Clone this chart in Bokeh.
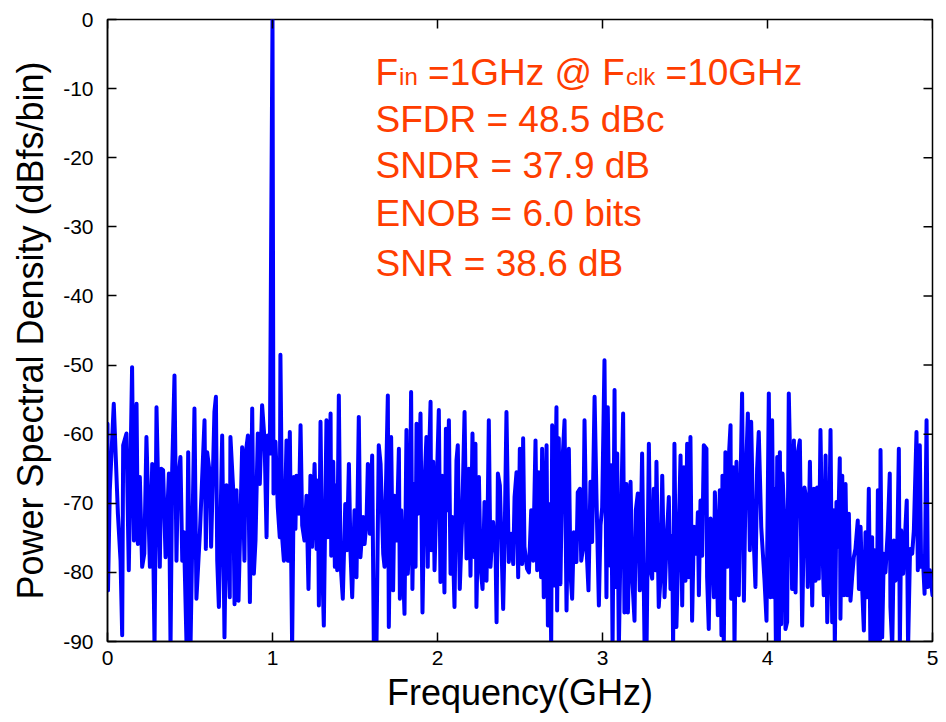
from bokeh.plotting import figure
from bokeh.models import Label, FixedTicker, Range1d
from bokeh.embed import file_html
from bokeh.resources import INLINE

# ---- data: (frequency GHz, PSD dBfs/bin) ----
seg_a = [(0.000, -58.5), (0.003, -82.6), (0.014, -68.1), (0.038, -55.6), (0.063, -71.5), (0.079, -78.3),
         (0.089, -89.1), (0.095, -61.6), (0.115, -59.9), (0.129, -79.7), (0.149, -50.3), (0.160, -75.4),
         (0.176, -55.6), (0.184, -75.9), (0.196, -66.2), (0.210, -79.2), (0.223, -77.3), (0.236, -60.4),
         (0.257, -79.2), (0.271, -64.3), (0.285, -91.0), (0.297, -56.1), (0.317, -79.2), (0.325, -65.0),
         (0.337, -65.2), (0.352, -77.8), (0.372, -65.7), (0.382, -91.0), (0.392, -65.2), (0.406, -51.5),
         (0.418, -78.3), (0.426, -67.2), (0.442, -63.3), (0.453, -78.3), (0.463, -74.2), (0.479, -90.5),
         (0.489, -62.6), (0.503, -91.0), (0.527, -56.3), (0.539, -83.8), (0.560, -74.2), (0.588, -58.0),
         (0.596, -76.6), (0.604, -62.6), (0.620, -65.7), (0.628, -76.3), (0.648, -56.8), (0.657, -54.6),
         (0.665, -78.3), (0.675, -85.0), (0.695, -60.2), (0.709, -89.4), (0.721, -67.4), (0.741, -83.6),
         (0.745, -60.4), (0.762, -68.1), (0.770, -84.6), (0.782, -68.1), (0.794, -84.1), (0.816, -61.9),
         (0.830, -78.3)]
seg_b = [(0.836, -63.1), (0.851, -60.2), (0.863, -84.3), (0.877, -56.3), (0.887, -80.2), (0.897, -75.4),
         (0.911, -59.9), (0.923, -67.2), (0.937, -55.8), (0.952, -60.9), (0.964, -74.9), (0.972, -60.2),
         (0.984, -62.8), (1.000, 0.0), (1.006, -68.6), (1.018, -61.1), (1.032, -70.6), (1.044, -74.9),
         (1.048, -48.5), (1.059, -75.1), (1.069, -78.3), (1.085, -60.9), (1.093, -78.3), (1.105, -59.7),
         (1.119, -91.0), (1.129, -66.2), (1.139, -73.7), (1.145, -66.0), (1.160, -71.5), (1.170, -58.7),
         (1.180, -73.2), (1.194, -75.4), (1.206, -68.9), (1.218, -82.4), (1.230, -66.0), (1.240, -76.3),
         (1.255, -64.3), (1.267, -76.6), (1.275, -66.7), (1.281, -84.8), (1.291, -58.2), (1.301, -78.3),
         (1.311, -87.7), (1.327, -58.0), (1.335, -74.9), (1.352, -57.0), (1.356, -77.6), (1.368, -64.0),
         (1.378, -79.2), (1.388, -67.4), (1.392, -79.7), (1.402, -54.4), (1.412, -78.5), (1.426, -83.8),
         (1.441, -70.1), (1.451, -76.8), (1.463, -64.3), (1.473, -77.3), (1.483, -83.6), (1.497, -71.0),
         (1.509, -80.7), (1.523, -57.5), (1.533, -77.8), (1.549, -72.0), (1.558, -75.9), (1.570, -72.5),
         (1.578, -64.3), (1.590, -74.4), (1.604, -63.1), (1.614, -90.5), (1.630, -91.0), (1.644, -61.6),
         (1.655, -64.3), (1.671, -77.3), (1.679, -79.2)]
seg_c = [(1.685, -70.6), (1.699, -54.4), (1.705, -87.9), (1.719, -60.4), (1.731, -82.6), (1.739, -68.9),
         (1.752, -75.4), (1.766, -62.1), (1.772, -83.8), (1.780, -71.0), (1.800, -86.0), (1.812, -59.4),
         (1.820, -80.2), (1.832, -74.4), (1.840, -53.9), (1.848, -82.4), (1.857, -67.2), (1.867, -79.2),
         (1.873, -58.5), (1.881, -71.5), (1.897, -57.0), (1.909, -85.8), (1.921, -67.4), (1.933, -60.4),
         (1.941, -79.2), (1.947, -65.2), (1.958, -55.3), (1.962, -76.8), (1.974, -64.0), (1.982, -79.7),
         (1.994, -68.6), (2.008, -56.5), (2.018, -81.4), (2.028, -66.0), (2.042, -82.9), (2.051, -59.2),
         (2.059, -71.0), (2.069, -58.0), (2.079, -80.2), (2.089, -72.0), (2.103, -85.0), (2.115, -63.8),
         (2.123, -61.6), (2.135, -82.4), (2.149, -72.5), (2.164, -56.8), (2.176, -78.0), (2.190, -65.0),
         (2.200, -80.5), (2.212, -59.9), (2.224, -77.8), (2.230, -61.4), (2.236, -85.0), (2.251, -66.2),
         (2.261, -79.2), (2.273, -82.4), (2.285, -69.8), (2.297, -81.2), (2.305, -69.8), (2.311, -58.0),
         (2.321, -79.2), (2.337, -72.7), (2.352, -77.3), (2.358, -87.2), (2.366, -65.7), (2.378, -67.4),
         (2.386, -74.4), (2.398, -85.3), (2.408, -73.4), (2.418, -56.8), (2.432, -78.5), (2.446, -74.4),
         (2.459, -78.8), (2.467, -69.1), (2.479, -65.5), (2.489, -80.7), (2.499, -62.1), (2.513, -78.8),
         (2.519, -60.6), (2.527, -76.3)]
seg_d = [(2.543, -79.5), (2.554, -80.0), (2.568, -71.0), (2.580, -78.3), (2.594, -60.9), (2.604, -79.7),
         (2.614, -65.5), (2.628, -80.7), (2.634, -62.1), (2.644, -83.6), (2.661, -61.6), (2.669, -87.7),
         (2.681, -70.1), (2.689, -91.0), (2.695, -58.7), (2.705, -81.9), (2.721, -56.1), (2.725, -85.5),
         (2.735, -60.6), (2.745, -81.7), (2.756, -64.5), (2.770, -58.0), (2.782, -85.5), (2.796, -62.1),
         (2.806, -80.2), (2.816, -83.8), (2.826, -74.2), (2.842, -78.5), (2.850, -68.4), (2.863, -67.9),
         (2.871, -78.3), (2.883, -76.3), (2.891, -58.0), (2.903, -76.3), (2.915, -82.6), (2.927, -66.9),
         (2.937, -75.6), (2.952, -54.6), (2.964, -69.6), (2.978, -84.8), (2.988, -73.2), (2.998, -70.6),
         (3.012, -49.3), (3.024, -83.6), (3.032, -56.1), (3.044, -79.0), (3.053, -64.5), (3.061, -91.0),
         (3.073, -53.6), (3.079, -82.1), (3.089, -62.8), (3.099, -91.0), (3.109, -76.3), (3.125, -57.0),
         (3.133, -85.8), (3.145, -67.2), (3.154, -85.8), (3.170, -66.9), (3.180, -80.7), (3.194, -87.0),
         (3.202, -71.0), (3.214, -68.6), (3.226, -82.6), (3.240, -62.8), (3.255, -91.0), (3.267, -91.0),
         (3.281, -61.4), (3.291, -79.5), (3.301, -80.9), (3.311, -67.9), (3.321, -79.7), (3.327, -64.0),
         (3.341, -85.0), (3.352, -80.7), (3.362, -66.0), (3.376, -83.6)]
seg_e = [(3.388, -75.9), (3.402, -69.1), (3.412, -82.4), (3.422, -74.7), (3.428, -91.0), (3.436, -61.4),
         (3.448, -87.9), (3.457, -79.2), (3.473, -63.1), (3.483, -84.8), (3.493, -64.8), (3.503, -81.2),
         (3.513, -61.4), (3.523, -80.7), (3.533, -60.4), (3.543, -87.0), (3.554, -73.4), (3.570, -77.3),
         (3.578, -71.3), (3.584, -83.3), (3.594, -69.6), (3.604, -77.6), (3.614, -61.6), (3.630, -62.1),
         (3.634, -80.7), (3.644, -88.2), (3.655, -72.2), (3.665, -75.4), (3.675, -83.6), (3.681, -68.4),
         (3.691, -75.4), (3.699, -86.2), (3.711, -68.1), (3.721, -89.1), (3.727, -66.0), (3.735, -91.0),
         (3.745, -62.6), (3.756, -79.2), (3.768, -62.3), (3.776, -58.7), (3.780, -83.8), (3.792, -64.8),
         (3.800, -91.0), (3.812, -64.0), (3.826, -83.3), (3.832, -73.4), (3.846, -54.1), (3.857, -84.1),
         (3.867, -67.7), (3.881, -57.0), (3.893, -76.8), (3.901, -58.2), (3.913, -73.0), (3.927, -82.1),
         (3.937, -65.0), (3.947, -59.7), (3.962, -73.4), (3.982, -81.2), (3.994, -87.0), (4.008, -54.1),
         (4.018, -83.6), (4.028, -58.0), (4.038, -83.6), (4.042, -67.9), (4.051, -91.0), (4.059, -63.3),
         (4.069, -91.0), (4.075, -62.6), (4.083, -87.5), (4.091, -65.7), (4.103, -73.0), (4.109, -88.2),
         (4.119, -87.2), (4.129, -54.1), (4.139, -65.7), (4.149, -82.4), (4.160, -60.9), (4.170, -82.9),
         (4.184, -62.6), (4.196, -60.9), (4.210, -87.7), (4.224, -67.7)]
seg_f = [(4.236, -69.6), (4.244, -82.1), (4.257, -64.0), (4.265, -75.9), (4.271, -84.8), (4.281, -67.9),
         (4.291, -81.2), (4.301, -67.7), (4.311, -80.9), (4.321, -59.4), (4.331, -74.4), (4.341, -83.3),
         (4.352, -63.1), (4.362, -87.2), (4.372, -77.3), (4.382, -59.4), (4.392, -87.2), (4.402, -71.0),
         (4.408, -91.0), (4.418, -69.8), (4.426, -76.3), (4.438, -63.5), (4.442, -86.7), (4.453, -66.0),
         (4.463, -83.3), (4.473, -67.2), (4.483, -83.3), (4.493, -71.5), (4.503, -84.1), (4.513, -80.7),
         (4.523, -77.8), (4.533, -76.6), (4.547, -72.5), (4.554, -82.4), (4.564, -73.4), (4.574, -82.4),
         (4.584, -88.4), (4.594, -74.2), (4.604, -83.6), (4.614, -67.9), (4.624, -91.0), (4.634, -74.9),
         (4.640, -91.0), (4.648, -76.8), (4.661, -91.0), (4.669, -68.1), (4.681, -91.0), (4.685, -62.3),
         (4.695, -89.4), (4.705, -77.3), (4.715, -80.0), (4.729, -73.9), (4.741, -65.7), (4.745, -85.0),
         (4.756, -91.0), (4.766, -75.4), (4.776, -81.2), (4.786, -77.3), (4.796, -62.1), (4.802, -91.0),
         (4.810, -73.9), (4.822, -80.2), (4.832, -75.4), (4.844, -69.6), (4.852, -91.0), (4.864, -76.6),
         (4.877, -77.3), (4.887, -73.9), (4.903, -59.7), (4.911, -79.7), (4.923, -61.6), (4.931, -79.2),
         (4.943, -78.5), (4.952, -83.1), (4.964, -58.0), (4.972, -82.1), (4.984, -79.7), (5.000, -83.3)]

x_ticks = [0, 1, 2, 3, 4, 5]
x_tick_labels = ["0", "1", "2", "3", "4", "5"]
y_ticks = [0, -10, -20, -30, -40, -50, -60, -70, -80, -90]
y_tick_labels = ["0", "-10", "-20", "-30", "-40", "-50", "-60", "-70", "-80", "-90"]

f_in_ghz = 1
f_clk_ghz = 10
sfdr_dbc = 48.5
sndr_db = 37.9
enob_bits = 6.0
snr_db = 38.6

# ---- build series ----
pairs = seg_a + seg_b + seg_c + seg_d + seg_e + seg_f
freq = [fq for fq, _ in pairs]
psd = [v for _, v in pairs]

FONT = "Liberation Sans"
RED = "#ff3d00"

X0, X1 = 0, 5
Y0, Y1 = -90, 0
ML, MR, MT, MB = 107, 14, 19, 81
W, H = 946, 722

p = figure(width=W, height=H, output_backend="svg", toolbar_location=None,
           x_range=Range1d(X0, X1), y_range=Range1d(Y0, Y1),
           min_border_left=ML, min_border_right=MR, min_border_top=MT, min_border_bottom=MB)
p.background_fill_color = "white"
p.border_fill_color = "white"
p.xgrid.visible = False
p.ygrid.visible = False
p.outline_line_color = "black"
p.outline_line_width = 1.5

p.line(freq, psd, line_color="#0000ff", line_width=4, line_join="round", line_cap="round")

def style_axis(ax):
    ax.major_tick_in = 9
    ax.major_tick_out = 0
    ax.minor_tick_in = 0
    ax.minor_tick_out = 0
    ax.axis_line_color = "black"
    ax.axis_line_width = 1.5
    ax.major_tick_line_color = "black"
    ax.major_tick_line_width = 1.5
    ax.major_label_text_font = FONT
    ax.major_label_text_color = "black"
    ax.major_label_text_font_size = "21px"

xa = p.xaxis[0]
ya = p.yaxis[0]
xa.ticker = FixedTicker(ticks=x_ticks)
ya.ticker = FixedTicker(ticks=y_ticks)
xa.major_label_overrides = {t: s for t, s in zip(x_ticks, x_tick_labels)}
ya.major_label_overrides = {t: s for t, s in zip(y_ticks, y_tick_labels)}
style_axis(xa)
style_axis(ya)
xa.major_label_standoff = 9
ya.major_label_standoff = 14

xa.axis_label = "Frequency(GHz)"
ya.axis_label = "Power Spectral Density (dBfs/bin)"
for ax, size, so in ((xa, "36px", 4), (ya, "36px", 9)):
    ax.axis_label_text_font = FONT
    ax.axis_label_text_font_size = size
    ax.axis_label_text_font_style = "normal"
    ax.axis_label_text_color = "black"
    ax.axis_label_standoff = so

# inward tick marks on the right and top edges of the box (9 px long)
px_per_x = (W - ML - MR) / (X1 - X0)
px_per_y = (H - MT - MB) / (Y1 - Y0)
tdx = 9 / px_per_x
tdy = 9 / px_per_y
p.segment(x0=[X1] * len(y_ticks), y0=y_ticks, x1=[X1 - tdx] * len(y_ticks), y1=y_ticks,
          line_color="black", line_width=1.5)
p.segment(x0=x_ticks, y0=[Y1] * len(x_ticks), x1=x_ticks, y1=[Y1 - tdy] * len(x_ticks),
          line_color="black", line_width=1.5)

# ---- annotation text (orange-red), with subscripts ----
AW = {'F': 611, 'i': 222, 'n': 556, ' ': 278, '=': 584, '1': 556, '0': 556, 'G': 778,
      'H': 722, 'z': 500, '@': 1015, 'c': 500, 'l': 222, 'k': 500}

def tw(s, size):
    return sum(AW[ch] for ch in s) * size / 1000.0

MAIN = 37
SUB = 24
ax0 = 1.624          # left edge of text block (GHz)
line_y = [-7.66, -14.47, -21.12, -28.06, -35.3]   # text baselines (dB)
sub_dy = -0.6

pieces = [("F", MAIN, 0.0), ("in", SUB, sub_dy), (f" ={f_in_ghz}GHz @ F", MAIN, 0.0),
          ("clk", SUB, sub_dy), (f" ={f_clk_ghz}GHz", MAIN, 0.0)]
xoff = 0.0
for txt, size, dy in pieces:
    stripped = txt.lstrip(" ")
    xoff += tw(txt[:len(txt) - len(stripped)], size)
    if size == SUB:
        xoff += 1
    p.add_layout(Label(x=ax0, y=line_y[0] + dy, x_offset=xoff, text=stripped,
                       text_font=FONT, text_font_size=f"{size}px", text_color=RED,
                       text_baseline="alphabetic", text_align="left"))
    xoff += tw(stripped, size)

other_lines = [f"SFDR = {sfdr_dbc:.1f} dBc", f"SNDR = {sndr_db:.1f} dB",
               f"ENOB = {enob_bits:.1f} bits", f"SNR = {snr_db:.1f} dB"]
for txt, yy in zip(other_lines, line_y[1:]):
    p.add_layout(Label(x=ax0, y=yy, text=txt, text_font=FONT, text_font_size=f"{MAIN}px",
                       text_color=RED, text_baseline="alphabetic", text_align="left"))

open("out.html", "w").write(file_html(p, INLINE))
